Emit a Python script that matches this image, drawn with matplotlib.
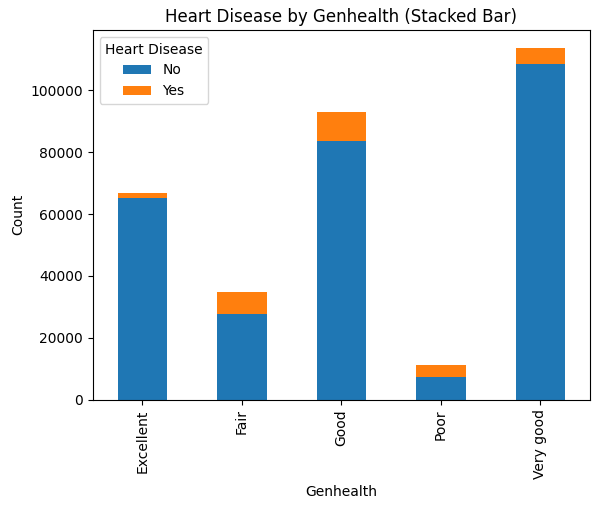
import matplotlib
matplotlib.use("Agg")
import matplotlib.pyplot as plt
import numpy as np

categories = ["Excellent", "Fair", "Good", "Poor", "Very good"]
no_counts = [65342, 27593, 83571, 7439, 108477]
yes_counts = [1500, 7084, 9558, 3850, 5381]

fig, ax = plt.subplots(figsize=(5.98, 5.09), dpi=100)
x = np.arange(len(categories))
ax.bar(x, no_counts, width=0.5, color="#1f77b4", label="No")
ax.bar(x, yes_counts, width=0.5, bottom=no_counts, color="#ff7f0e", label="Yes")
ax.set_xticks(x)
ax.set_xticklabels(categories, rotation=90)
ax.set_xlim(-0.5, len(categories) - 0.5)
ax.set_title("Heart Disease by Genhealth (Stacked Bar)")
ax.set_xlabel("Genhealth")
ax.set_ylabel("Count")
ax.legend(title="Heart Disease", loc="upper left")
fig.subplots_adjust(left=0.155, right=0.987, top=0.941, bottom=0.215)
fig.savefig("out.png", dpi=100)
